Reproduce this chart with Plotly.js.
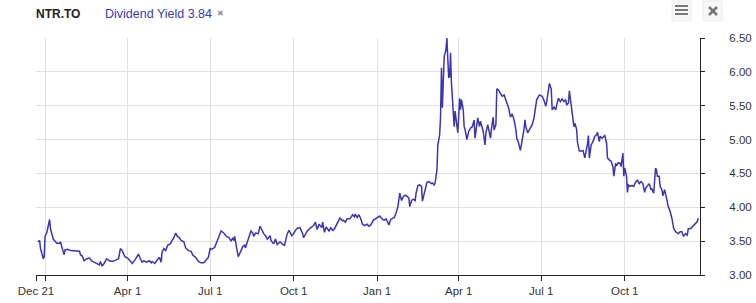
<!DOCTYPE html>
<html>
<head>
<meta charset="utf-8">
<script src="https://cdn.plot.ly/plotly-3.0.1.min.js"></script>
<style>
  html, body { margin: 0; padding: 0; background: #fff; }
  #chart { width: 756px; height: 303px; }
</style>
</head>
<body>
<div id="chart"></div>
<script>
// ---- data ----
const startDate = '2020-12-22';          // day 0 of the series
const symbol = 'NTR.TO';
const seriesName = 'Dividend Yield';

// trading-day offsets (days since startDate)
const dayOffsets = [
  1,3,4,7,8,9,11,12,14,15,16,18,20,22,25,26,28,30,31,34,37,41,47,48,50,52,55,58,60,63,
  66,69,70,72,74,77,80,83,87,90,92,94,97,100,104,105,108,110,112,114,116,118,121,124,126,127,130,132,135,137,
  138,140,142,144,147,149,151,153,155,157,159,162,164,167,170,172,175,178,181,184,186,189,191,193,196,198,201,203,206,209,
  212,214,216,217,218,220,222,225,227,229,230,232,234,236,238,239,241,244,246,248,250,252,254,257,258,261,263,265,268,271,
  273,276,278,281,283,285,287,290,293,294,298,302,305,307,309,311,314,315,317,319,322,324,326,328,331,334,337,338,340,342,
  345,348,350,351,353,355,357,359,361,364,366,
  368,371,373,376,378,381,383,385,388,390,392,394,396,398,400,402,404,406,408,410,411,413,415,417,418,420,422,424,425,427,
  429,430,432,435,436,438,439,441,442,444,445,446,447,448,449,451,452,453,454,455,456,457,459,460,461,463,464,465,466,467,
  468,470,471,472,474,475,476,478,480,482,483,485,486,488,489,490,492,494,495,497,499,500,501,503,504,506,507,509,511,513,
  515,517,518,520,522,524,526,528,529,531,533,535,537,538,539,541,543,546,548,550,551,554,557,559,561,562,564,565,567,568,
  570,572,573,575,577,579,581,583,584,586,587,589,590,592,593,595,596,598,600,602,604,606,607,608,609,611,613,615,617,618,
  620,621,623,625,626,628,629,631,633,635,636,638,639,641,643,644,646,647,648,650,651,652,654,656,658,660,662,664,666,668,
  670,671,674,675,677,678,679,680,682,683,684,686,687,689,690,692,694,696,698,700,702,704,706,707,709,711,713,715,717,718,
  721,723,725,727,728,729
];

const yieldValues = [
  3.49,3.51,3.39,3.24,3.27,3.57,3.63,3.68,3.82,3.68,3.63,3.53,3.50,3.47,3.47,3.49,3.39,3.30,3.37,3.38,3.36,3.36,3.35,3.30,3.28,3.21,3.24,3.25,3.21,3.19,
  3.17,3.15,3.20,3.13,3.17,3.24,3.21,3.20,3.22,3.24,3.39,3.36,3.27,3.25,3.19,3.17,3.22,3.27,3.31,3.24,3.19,3.21,3.19,3.21,3.18,3.20,3.17,3.21,3.26,3.19,
  3.34,3.39,3.36,3.44,3.46,3.51,3.55,3.62,3.57,3.55,3.51,3.49,3.40,3.36,3.35,3.29,3.26,3.20,3.18,3.18,3.22,3.26,3.39,3.38,3.41,3.49,3.58,3.65,3.62,3.57,
  3.55,3.50,3.55,3.51,3.57,3.41,3.27,3.36,3.42,3.44,3.40,3.49,3.57,3.65,3.62,3.57,3.62,3.61,3.72,3.66,3.61,3.58,3.53,3.58,3.51,3.46,3.53,3.45,3.49,3.45,
  3.44,3.61,3.66,3.58,3.61,3.66,3.69,3.70,3.61,3.55,3.65,3.70,3.73,3.78,3.67,3.75,3.70,3.78,3.63,3.71,3.65,3.70,3.66,3.68,3.76,3.84,3.80,3.81,3.78,3.83,
  3.83,3.89,3.86,3.90,3.85,3.89,3.83,3.75,3.73,3.75,3.72,
  3.74,3.81,3.83,3.85,3.87,3.82,3.81,3.83,3.74,3.82,3.84,3.85,3.92,4.01,4.21,4.10,4.16,4.18,4.16,4.14,4.01,4.10,4.12,4.10,4.21,4.32,4.33,4.31,4.09,4.21,
  4.28,4.37,4.38,4.35,4.36,4.33,4.36,4.55,4.92,5.07,5.34,6.06,5.47,6.11,6.23,6.33,6.50,6.18,5.91,5.93,6.28,5.83,5.49,5.19,5.42,5.17,5.10,5.34,5.61,5.44,
  5.59,5.44,5.19,5.15,5.00,5.06,5.12,5.17,5.19,5.29,5.02,5.22,5.32,5.19,5.27,5.22,5.12,4.92,5.10,5.22,5.06,5.02,5.15,5.33,5.14,5.22,5.75,5.73,5.68,5.64,
  5.66,5.59,5.55,5.47,5.33,5.38,5.29,5.15,5.02,4.95,4.84,4.97,5.15,5.29,5.19,5.10,5.15,5.22,5.32,5.54,5.59,5.66,5.64,5.58,5.49,5.56,5.75,5.83,5.75,5.44,
  5.48,5.44,5.51,5.61,5.56,5.60,5.56,5.59,5.51,5.54,5.72,5.51,5.37,5.19,5.24,5.15,4.95,4.83,4.83,4.84,4.73,4.85,4.94,5.06,4.73,4.92,4.97,5.05,5.07,5.11,
  4.97,5.05,5.02,5.05,5.06,4.95,4.73,4.70,4.68,4.60,4.46,4.65,4.61,4.66,4.65,4.60,4.80,4.46,4.58,4.46,4.22,4.33,4.31,4.32,4.31,4.37,4.40,4.35,4.38,4.35,
  4.22,4.28,4.33,4.35,4.26,4.28,4.23,4.21,4.58,4.55,4.46,4.46,4.31,4.26,4.17,4.26,4.14,4.01,3.94,3.84,3.69,3.64,3.62,3.61,3.64,3.64,3.57,3.61,3.59,3.68,
  3.69,3.72,3.74,3.77,3.79,3.84
];

// x-axis ticks
const xTickDates  = ['2020-12-21','2021-01-01','2021-04-01','2021-07-01','2021-10-01','2022-01-01','2022-04-01','2022-07-01','2022-10-01'];
const xTickLabels = ['Dec 21','','Apr 1','Jul 1','Oct 1','Jan 1','Apr 1','Jul 1','Oct 1'];
const xRange = ['2020-12-21','2022-12-23'];

// y-axis ticks
const yTickVals = [3.0,3.5,4.0,4.5,5.0,5.5,6.0,6.5];

// ---- build ----
const base = Date.parse(startDate + 'T00:00:00Z');
const xDates = dayOffsets.map(d => new Date(base + d * 86400000).toISOString().slice(0, 10));

const W = 756, H = 303;
const M = { l: 36, r: 56, t: 38, b: 28, pad: 0 };
const pw = W - M.l - M.r, ph = H - M.t - M.b;
const PX = x => (x - M.l) / pw;
const PY = y => (H - M.b - y) / ph;

const lineColor = '#3b35b0';
const axisColor = '#222';
const gridColor = '#e0e0e0';
const iconColor = '#777';

const trace = {
  type: 'scatter',
  mode: 'lines',
  x: xDates,
  y: yieldValues,
  line: { color: lineColor, width: 1.5 },
  hoverinfo: 'skip',
  showlegend: false
};

const lastVal = yieldValues[yieldValues.length - 1];

const shapes = [
  // menu button
  { type: 'rect', xref: 'paper', yref: 'paper', x0: PX(672), x1: PX(691), y0: PY(21), y1: PY(1),
    fillcolor: '#f7f7f7', line: { color: '#ececec', width: 1 }, layer: 'above' },
  { type: 'line', xref: 'paper', yref: 'paper', x0: PX(675), x1: PX(688), y0: PY(6), y1: PY(6), line: { color: iconColor, width: 2 } },
  { type: 'line', xref: 'paper', yref: 'paper', x0: PX(675), x1: PX(688), y0: PY(10), y1: PY(10), line: { color: iconColor, width: 2 } },
  { type: 'line', xref: 'paper', yref: 'paper', x0: PX(675), x1: PX(688), y0: PY(14), y1: PY(14), line: { color: iconColor, width: 2 } },
  // close button
  { type: 'rect', xref: 'paper', yref: 'paper', x0: PX(703), x1: PX(722), y0: PY(21), y1: PY(1),
    fillcolor: '#f7f7f7', line: { color: '#ececec', width: 1 }, layer: 'above' },
  { type: 'line', xref: 'paper', yref: 'paper', x0: PX(709), x1: PX(717), y0: PY(7), y1: PY(15), line: { color: iconColor, width: 2.5 } },
  { type: 'line', xref: 'paper', yref: 'paper', x0: PX(709), x1: PX(717), y0: PY(15), y1: PY(7), line: { color: iconColor, width: 2.5 } }
];

const annotations = [
  { xref: 'paper', yref: 'paper', x: PX(34), y: PY(14.5), xanchor: 'left', yanchor: 'middle', showarrow: false,
    text: '<b>' + symbol + '</b>', font: { family: 'Liberation Sans, Arial, sans-serif', size: 12, color: '#222' } },
  { xref: 'paper', yref: 'paper', x: PX(103), y: PY(14.5), xanchor: 'left', yanchor: 'middle', showarrow: false,
    text: seriesName + ' ' + lastVal.toFixed(2), font: { family: 'Liberation Sans, Arial, sans-serif', size: 12.5, color: '#3b3aa6' } },
  { xref: 'paper', yref: 'paper', x: PX(220), y: PY(13.5), xanchor: 'center', yanchor: 'middle', showarrow: false,
    text: '✖', font: { family: 'DejaVu Sans, sans-serif', size: 8, color: '#999' } }
];

const layout = {
  width: W, height: H,
  margin: M,
  paper_bgcolor: '#fff', plot_bgcolor: '#fff',
  font: { family: 'Liberation Sans, Arial, sans-serif', size: 11.5, color: '#333' },
  showlegend: false,
  xaxis: {
    type: 'date',
    range: xRange,
    tickmode: 'array',
    tickvals: xTickDates,
    ticktext: xTickLabels,
    showgrid: true, gridcolor: gridColor, gridwidth: 1,
    showline: true, linecolor: axisColor, linewidth: 1,
    ticks: 'outside', ticklen: 5, tickcolor: axisColor, tickwidth: 1,
    tickfont: { size: 11.5, color: '#333' },
    zeroline: false, fixedrange: true
  },
  yaxis: {
    side: 'right',
    range: [3, 6.5],
    tickmode: 'array',
    tickvals: yTickVals,
    ticktext: yTickVals.map(v => v.toFixed(2)),
    showgrid: true, gridcolor: gridColor, gridwidth: 1,
    showline: true, linecolor: axisColor, linewidth: 1,
    ticks: 'outside', ticklen: 4, tickcolor: axisColor, tickwidth: 1,
    ticklabelstandoff: 22,
    tickfont: { size: 11.5, color: '#333' },
    zeroline: false, fixedrange: true
  },
  shapes: shapes,
  annotations: annotations
};

Plotly.newPlot('chart', [trace], layout, { displayModeBar: false, staticPlot: true });
</script>
</body>
</html>
